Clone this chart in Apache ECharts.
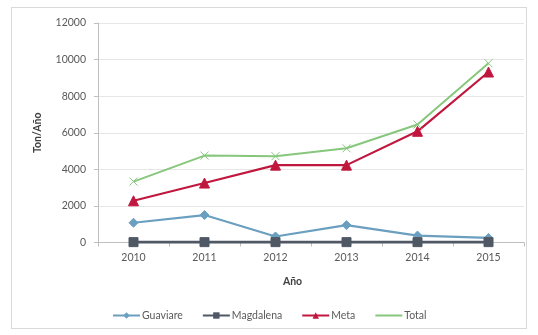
<!DOCTYPE html>
<html>
<head>
<meta charset="utf-8">
<script src="https://cdn.jsdelivr.net/npm/echarts@6/dist/echarts.min.js"></script>
<style>
  html, body { margin: 0; padding: 0; background: #ffffff; }
  #frame { position: absolute; left: 11px; top: 7px; width: 516px; height: 322px; border: 1px solid #d9d9d9; box-sizing: border-box; }
  #chart { position: absolute; left: 0; top: 0; width: 538px; height: 335px; }
</style>
</head>
<body>
<div id="frame"></div>
<div id="chart"></div>
<script>
// Production by department, tonnes per year
const years = ['2010', '2011', '2012', '2013', '2014', '2015'];
const guaviare = [1080, 1500, 330, 950, 380, 250];
const magdalena = [20, 20, 20, 20, 20, 20];
const meta = [2280, 3250, 4230, 4230, 6080, 9320];
const total = [3330, 4750, 4720, 5150, 6450, 9800];
const yTicks = [0, 2000, 4000, 6000, 8000, 10000, 12000];

const font = 'Lato, "Liberation Sans", sans-serif';
const chart = echarts.init(document.getElementById('chart'), null, { renderer: 'canvas' });

function lineSeries(name, data, color, symbol, size, width) {
  return {
    name: name,
    type: 'line',
    data: data,
    symbol: symbol,
    symbolSize: size,
    lineStyle: { color: color, width: width },
    itemStyle: { color: color, borderColor: color },
    emphasis: { disabled: true },
    animation: false
  };
}

chart.setOption({
  animation: false,
  textStyle: { fontFamily: font },
  grid: { left: 98, right: 14, top: 23, bottom: 92.5, containLabel: false },
  legend: {
    bottom: 9,
    left: 107,
    itemWidth: 27,
    itemHeight: 8,
    itemGap: 19,
    textStyle: { fontFamily: font, fontSize: 10.5, color: '#595959', padding: [0, 0, 0, -3] },
    data: ['Guaviare', 'Magdalena', 'Meta', 'Total']
  },
  xAxis: {
    type: 'category',
    data: years,
    boundaryGap: true,
    name: 'Año',
    nameLocation: 'middle',
    nameGap: 34,
    nameTextStyle: { fontFamily: font, fontSize: 10.5, fontWeight: 'bold', color: '#404040', padding: [0, 37, 0, 0] },
    axisLine: { lineStyle: { color: '#bfbfbf', width: 1 } },
    axisTick: { show: true, alignWithLabel: false, length: 4, lineStyle: { color: '#bfbfbf' } },
    axisLabel: { fontFamily: font, fontSize: 10.5, color: '#595959', margin: 10 }
  },
  yAxis: {
    type: 'value',
    min: yTicks[0],
    max: yTicks[yTicks.length - 1],
    interval: yTicks[1] - yTicks[0],
    name: 'Ton/Año',
    nameLocation: 'middle',
    nameGap: 55,
    nameRotate: 90,
    nameTextStyle: { fontFamily: font, fontSize: 10.5, fontWeight: 'bold', color: '#404040' },
    axisLine: { show: true, lineStyle: { color: '#bfbfbf', width: 1 } },
    axisTick: { show: true, length: 4, lineStyle: { color: '#bfbfbf' } },
    axisLabel: { fontFamily: font, fontSize: 10.5, color: '#595959', margin: 12, formatter: v => String(v) },
    splitLine: { lineStyle: { color: '#e6e6e6', width: 1 } }
  },
  series: [
    lineSeries('Guaviare', guaviare, '#6a9fc0', 'diamond', 9, 2.2),
    lineSeries('Magdalena', magdalena, '#4f5864', 'rect', 9, 2.8),
    lineSeries('Meta', meta, '#c0173e', 'triangle', 10, 2.2),
    lineSeries('Total', total, '#86c77c', 'path://M0,0 L10,10 M10,0 L0,10', 8, 2)
  ]
});
</script>
</body>
</html>
